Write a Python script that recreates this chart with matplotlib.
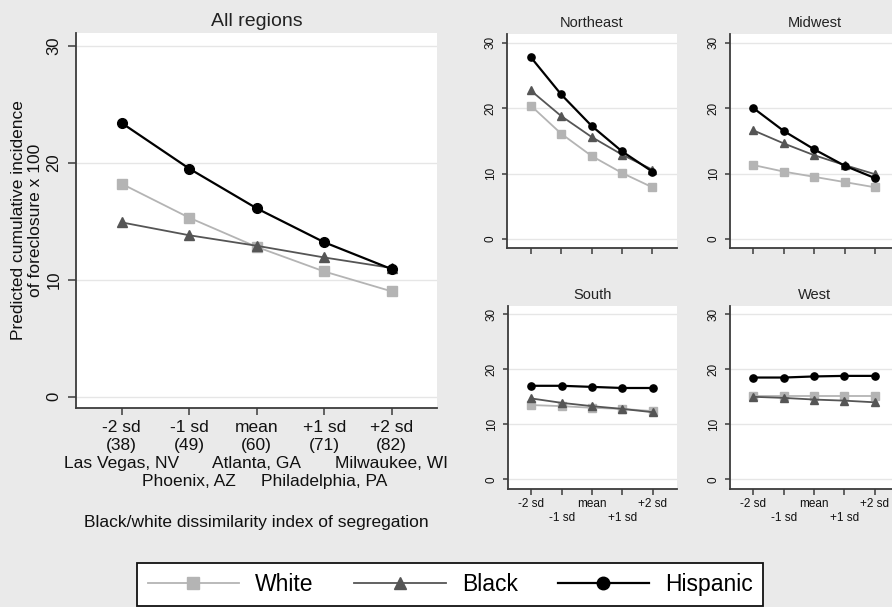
import matplotlib.pyplot as plt
from matplotlib.lines import Line2D

plt.rcParams['font.family'] = ['Liberation Sans', 'DejaVu Sans']

# x positions of the five segregation levels
positions = [1, 2, 3, 4, 5]
sd_labels = ['-2 sd', '-1 sd', 'mean', '+1 sd', '+2 sd']
index_values = ['(38)', '(49)', '(60)', '(71)', '(82)']
example_cities = ['Las Vegas, NV', 'Phoenix, AZ', 'Atlanta, GA',
                  'Philadelphia, PA', 'Milwaukee, WI']
y_ticks = [0, 10, 20, 30]

# Predicted cumulative incidence of foreclosure x 100
all_white = [18.2, 15.3, 12.8, 10.7, 9.0]
all_black = [14.9, 13.8, 12.9, 11.9, 11.0]
all_hisp  = [23.4, 19.5, 16.1, 13.2, 10.9]

ne_white = [20.4, 16.1, 12.7, 10.1, 7.9]
ne_black = [22.7, 18.8, 15.6, 12.9, 10.6]
ne_hisp  = [27.8, 22.1, 17.3, 13.4, 10.3]

mw_white = [11.3, 10.3, 9.5, 8.7, 7.9]
mw_black = [16.6, 14.6, 12.8, 11.3, 9.9]
mw_hisp  = [20.0, 16.5, 13.7, 11.2, 9.3]

so_white = [13.5, 13.3, 13.0, 12.8, 12.4]
so_black = [14.7, 13.9, 13.3, 12.8, 12.2]
so_hisp  = [17.0, 17.0, 16.8, 16.6, 16.6]

we_white = [15.1, 15.1, 15.1, 15.1, 15.1]
we_black = [15.0, 14.8, 14.5, 14.3, 14.0]
we_hisp  = [18.5, 18.5, 18.7, 18.8, 18.8]

series_names = ['White', 'Black', 'Hispanic']

BG = '#eaeaea'
SPINE = '#3c3c3c'
STYLES = [
    dict(color='#b4b4b4', marker='s', lw=1.3),
    dict(color='#555555', marker='^', lw=1.3),
    dict(color='#000000', marker='o', lw=1.6),
]


def style_axes(ax, ylim, xlim, ysize):
    ax.set_facecolor('white')
    for side in ('top', 'right'):
        ax.spines[side].set_visible(False)
    for side in ('left', 'bottom'):
        ax.spines[side].set_color(SPINE)
        ax.spines[side].set_linewidth(1.3)
    ax.set_xlim(*xlim)
    ax.set_ylim(*ylim)
    ax.set_yticks(y_ticks)
    ax.set_xticks(positions)
    ax.grid(axis='y', color='#e6e6e6', lw=1.0)
    ax.set_axisbelow(True)
    ax.tick_params(colors=SPINE, labelcolor='#111111', width=1.1)
    ax.tick_params(axis='y', labelrotation=90, labelsize=ysize)
    for lab in ax.get_yticklabels():
        lab.set_va('center')


def draw_series(ax, white, black, hisp, ms):
    for vals, st in zip([white, black, hisp], STYLES):
        ax.plot(positions, vals, color=st['color'], marker=st['marker'],
                lw=st['lw'], ms=ms, clip_on=False, zorder=3)


fig = plt.figure(figsize=(8.92, 6.07), dpi=100, facecolor=BG)
W, H = 892, 607


def px_axes(left, right, top, bottom):
    return fig.add_axes([left / W, 1 - bottom / H, (right - left) / W, (bottom - top) / H])


# --- main panel: all regions ---
ax = px_axes(76, 437, 33, 407.7)
style_axes(ax, (-0.95, 31.1), (0.323, 5.67), 12)
draw_series(ax, all_white, all_black, all_hisp, ms=7)
ax.tick_params(axis='y', length=6, pad=4.5)
ax.tick_params(axis='x', length=5, pad=3.5, labelsize=12.5)
ax.set_xticklabels([f'{sd}\n{idx}' for sd, idx in zip(sd_labels, index_values)],
                   linespacing=1.27)
# example cities, staggered on two rows under the tick labels
for i, (pos, city) in enumerate(zip(positions, example_cities)):
    row_y = -0.1476 if i % 2 == 0 else -0.1975
    ax.text(pos, row_y, city, transform=ax.get_xaxis_transform(),
            ha='center', va='center', fontsize=12.5, color='#111111')
ax.set_title('All regions', fontsize=14, pad=5, color='#222222')
ax.set_ylabel('Predicted cumulative incidence\nof foreclosure x 100',
              fontsize=12.5, linespacing=1.13, color='#111111')
ax.yaxis.set_label_coords(-0.092, 0.5)
fig.text(256 / W, 1 - 522.7 / H, 'Black/white dissimilarity index of segregation',
         ha='center', va='center', fontsize=12.5, color='#111111')

# --- regional panels ---
panels = [
    ('Northeast', ne_white, ne_black, ne_hisp, (507.3, 676.7, 34, 248.3), (-1.42, 31.33), False),
    ('Midwest', mw_white, mw_black, mw_hisp, (730, 899.4, 34, 248.3), (-1.42, 31.33), False),
    ('South', so_white, so_black, so_hisp, (508, 677, 306, 488.7), (-1.7, 31.5), True),
    ('West', we_white, we_black, we_hisp, (730, 899, 306, 488.7), (-1.7, 31.5), True),
]
small_labels = [lab if i % 2 == 0 else '\n' + lab for i, lab in enumerate(sd_labels)]

for name, w, b, h, box, ylim, show_x in panels:
    sax = px_axes(*box)
    style_axes(sax, ylim, (0.23, 5.8), 8.5)
    draw_series(sax, w, b, h, ms=5.2)
    sax.tick_params(axis='y', length=3.5, pad=4)
    sax.tick_params(axis='x', length=4.5, pad=2)
    if show_x:
        sax.set_xticklabels(small_labels, fontsize=8.5, linespacing=1.25)
    else:
        sax.set_xticklabels([])
    sax.set_title(name, fontsize=10.5, pad=5, color='#222222')

# --- legend ---
handles = [Line2D([], [], color=st['color'], marker=st['marker'], lw=st['lw'], ms=9)
           for st in STYLES]
leg = fig.legend(handles, series_names, loc='upper left',
                 bbox_to_anchor=(137.3 / W, 1 - 562.7 / H), ncol=3,
                 fontsize=16.5, handlelength=4.0, handletextpad=0.7,
                 columnspacing=1.75, borderpad=0.45, frameon=True,
                 fancybox=False, edgecolor='#111111', facecolor='white',
                 framealpha=1.0, borderaxespad=0)
leg.get_frame().set_linewidth(1.3)

fig.savefig('out.png', dpi=100, facecolor=BG)
